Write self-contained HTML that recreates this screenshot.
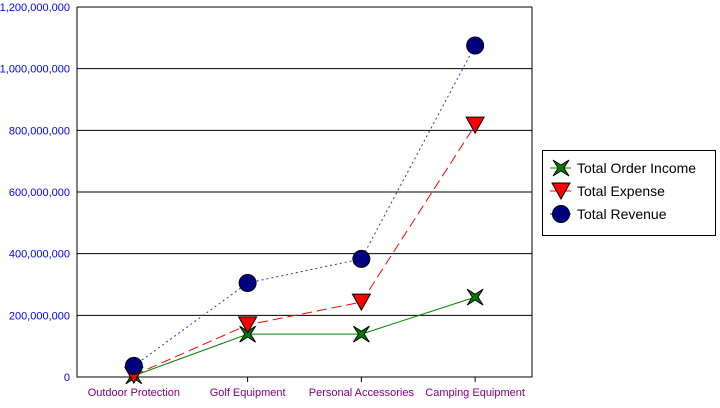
<!DOCTYPE html>
<html><head><meta charset="utf-8"><style>
body{margin:0;background:#fff;}
svg text{font-family:"Liberation Sans",Arial,sans-serif;}
</style></head><body>
<svg id="chart" width="720" height="403" xmlns="http://www.w3.org/2000/svg"></svg>
<script>
const categories=["Outdoor Protection","Golf Equipment","Personal Accessories","Camping Equipment"];
const incomeValues=[4,139,139,259];
const expenseValues=[6,169,243,817];
const revenueValues=[36,305,383,1075];
const yTicks=[0,200,400,600,800,1000,1200];
const yTickLabels=["0","200,000,000","400,000,000","600,000,000","800,000,000","1,000,000,000","1,200,000,000"];
const seriesNames=["Total Order Income","Total Expense","Total Revenue"];

const NS="http://www.w3.org/2000/svg";
const svg=document.getElementById('chart');
const L=77,R=532,T=7,B=377;
const yMax=1200;
function y(v){return B-(v/yMax)*(B-T);}
function x(i){return L+(R-L)*(i+0.5)/categories.length;}
function mk(tag,attrs,parent){const e=document.createElementNS(NS,tag);for(const k in attrs)e.setAttribute(k,attrs[k]);(parent||svg).appendChild(e);return e;}

// gridlines and y labels
yTicks.forEach((t,i)=>{
  const g=mk('line',{x1:L,x2:R,y1:y(t),y2:y(t),stroke:'#000','stroke-width':1});
  
  
  const tx=mk('text',{x:L-7,y:y(t)+4,'text-anchor':'end','font-size':11,fill:'#0000ff'});
  tx.textContent=yTickLabels[i];
  
  
});
// axes
const ax=mk('path',{d:`M${L},${T}V${B}H${R}V${T}`,fill:'none',stroke:'#000','stroke-width':1});


categories.forEach((c,i)=>{
  const tk=mk('line',{x1:x(i),x2:x(i),y1:B,y2:B+5,stroke:'#000'});
  
  
  const tx=mk('text',{x:x(i),y:B+19,'text-anchor':'middle','font-size':11,fill:'#800080'});
  tx.textContent=c;
  
  
});

function star(cx,cy,s){const r=s,q=s*0.35;return `M${cx-r},${cy-r}L${cx},${cy-q}L${cx+r},${cy-r}L${cx+q},${cy}L${cx+r},${cy+r}L${cx},${cy+q}L${cx-r},${cy+r}L${cx-q},${cy}Z`;}
function marker(kind,cx,cy,parent){
  if(kind==='star')return mk('path',{d:star(cx,cy,8),fill:'#008000',stroke:'#000','stroke-width':1},parent);
  if(kind==='tri')return mk('path',{d:`M${cx-9},${cy-8}H${cx+9}L${cx},${cy+8}Z`,fill:'#ff0000',stroke:'#000','stroke-width':1},parent);
  return mk('circle',{cx:cx,cy:cy,r:8.5,fill:'#000080',stroke:'#000','stroke-width':1},parent);
}
const series=[
 {vals:revenueValues,color:'#3333aa',dash:'2,3',kind:'circle',name:'revenue'},
 {vals:expenseValues,color:'#ff0000',dash:'10,5',kind:'tri',name:'expense'},
 {vals:incomeValues,color:'#008000',dash:'',kind:'star',name:'income'}
];
series.forEach(s=>{
  const g=mk('g',{});
  
  
  const p=mk('polyline',{points:s.vals.map((v,i)=>x(i)+','+y(v)).join(' '),fill:'none',stroke:s.color,'stroke-width':1,'stroke-dasharray':s.dash},g);
  
  
});
series.slice().reverse().forEach(s=>{
  s.vals.forEach((v,i)=>{
    const m=marker(s.kind,x(i),y(v));
    
    
  });
});
// legend
const lg=mk('g',{});


mk('rect',{x:542.5,y:150.5,width:173,height:85,fill:'#fff',stroke:'#000'},lg);
const lk=[['star','#008000'],['tri','#ff0000'],['circle','#000080']];
seriesNames.forEach((n,i)=>{
  const cy=168+i*23;
  const e=mk('g',{},lg);
  
  
  mk('line',{x1:550,x2:571,y1:cy,y2:cy,stroke:lk[i][1]},e);
  const m=marker(lk[i][0],561,cy,e);
  const t=mk('text',{x:577,y:cy+5,'font-size':14,fill:'#000'},e);
  t.textContent=n;
});
</script>
</body></html>
